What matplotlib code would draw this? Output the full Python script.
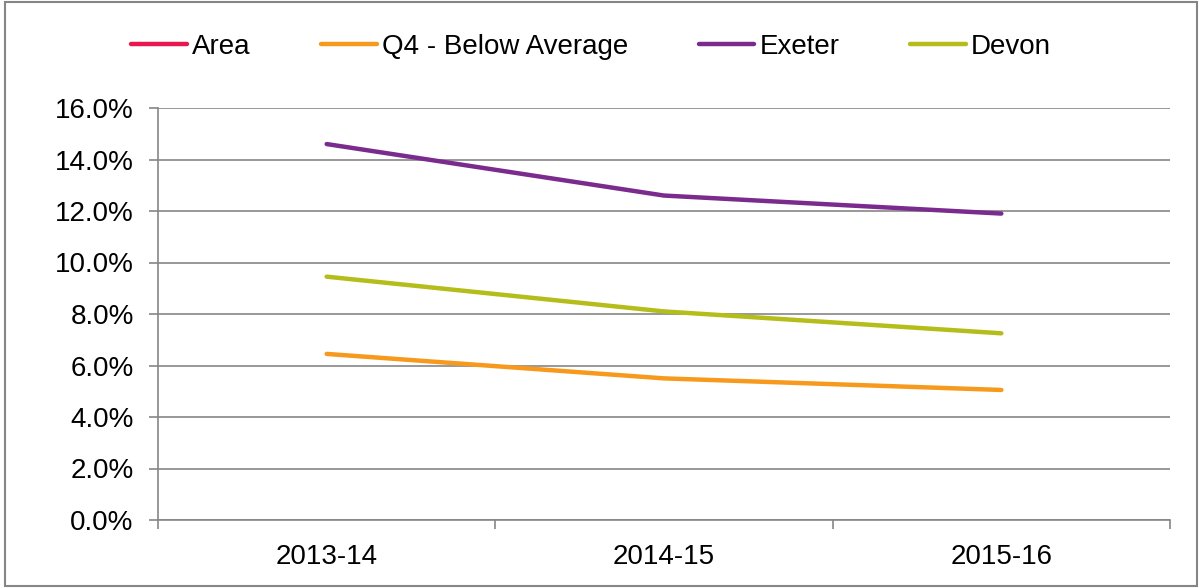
import numpy as np
import matplotlib.pyplot as plt
from matplotlib.patches import Rectangle
from matplotlib.ticker import FuncFormatter

# --- dane ---
years = ["2013-14", "2014-15", "2015-16"]
area = [np.nan, np.nan, np.nan]  # brak danych, tylko w legendzie
q4_below = [6.45, 5.5, 5.05]
exeter = [14.6, 12.6, 11.9]
devon = [9.45, 8.1, 7.25]

AREA_COLOR = "#E8174F"
Q4_COLOR = "#F7991C"
EXETER_COLOR = "#7B2A8E"
DEVON_COLOR = "#B5BD1A"
GRID_COLOR = "#868686"

plt.rcParams["font.family"] = ["Liberation Sans", "DejaVu Sans"]

fig = plt.figure(figsize=(11.99, 5.88), dpi=100)
ax = fig.add_axes([158 / 1199, 68 / 588, 1012 / 1199, 412 / 588])

x = np.arange(len(years))
series = [("Area", area, AREA_COLOR), ("Q4 - Below Average", q4_below, Q4_COLOR),
          ("Exeter", exeter, EXETER_COLOR), ("Devon", devon, DEVON_COLOR)]
for name, vals, color in series:
    ax.plot(x, vals, label=name, color=color, linewidth=3.2, solid_capstyle="round", zorder=3)

ax.set_xlim(-0.5, 2.5)
ax.set_ylim(0, 16)
ax.set_yticks(np.arange(0, 16.1, 2))
ax.yaxis.set_major_formatter(FuncFormatter(lambda v, p: f"{v:.1f}%"))
ax.set_xticks([-0.5, 0.5, 1.5, 2.5])
ax.set_xticklabels([])
ax.set_xticks(x, minor=True)
ax.set_xticklabels(years, minor=True)
ax.tick_params(axis="x", which="minor", length=0, pad=17, labelsize=20)
ax.tick_params(axis="x", which="major", length=6.5, color=GRID_COLOR, width=1.2)
ax.tick_params(axis="y", length=6.5, color=GRID_COLOR, width=1.2, labelsize=20, pad=11)

ax.grid(True, axis="y", color=GRID_COLOR, linewidth=1.2)
ax.set_axisbelow(True)
for side in ["top", "right"]:
    ax.spines[side].set_visible(False)
for side in ["left", "bottom"]:
    ax.spines[side].set_color(GRID_COLOR)
    ax.spines[side].set_linewidth(1.2)

leg = fig.legend(loc="center", bbox_to_anchor=(591 / 1199, 1 - 47 / 588), ncol=4,
                 frameon=False, fontsize=20, handlelength=2.0, handletextpad=0.18,
                 columnspacing=2.55)

# ramka wokol calego wykresu
fig.patches.append(Rectangle((0.004, 0.003), 0.994, 0.994, transform=fig.transFigure,
                             fill=False, edgecolor=GRID_COLOR, linewidth=1.5))

plt.savefig("out.png", dpi=100)
